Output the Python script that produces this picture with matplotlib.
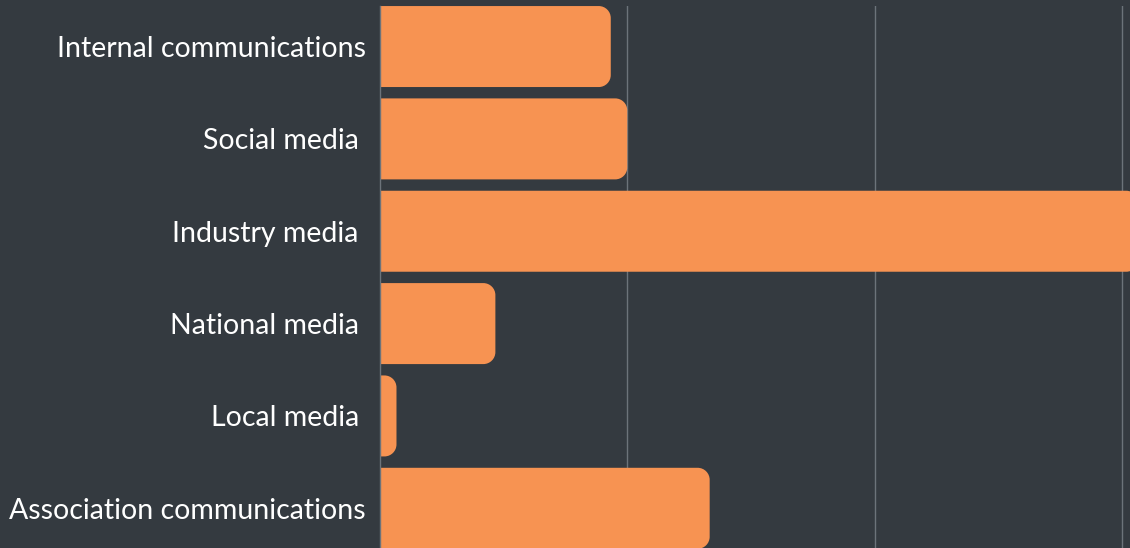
import numpy as np
import matplotlib.pyplot as plt
from matplotlib.path import Path
from matplotlib.patches import PathPatch
from matplotlib.transforms import IdentityTransform

categories = ["Internal communications", "Social media ", "Industry media ",
              "National media ", "Local media ", "Association communications"]
counts = [14, 15, 46, 7, 1, 20]

BG = "#343a40"
BAR = "#f79352"
GRID = "#6c737a"

W, H = 1130, 548
fig = plt.figure(figsize=(W / 100, H / 100), dpi=100, facecolor=BG)
ax = fig.add_axes([380 / W, 0, 1 - 380 / W, 1 - 6 / H], facecolor=BG)

y = np.arange(len(categories))
bars = ax.barh(y, counts, height=0.877, color="none")
ax.set_xlim(0, 45.5)
ax.set_ylim(5.43, -0.439)

ax.set_xticks([15, 30, 45])
ax.xaxis.grid(True, color=GRID, linewidth=1)
ax.set_axisbelow(True)
ax.tick_params(axis="x", length=0, labelbottom=False)
ax.set_yticks(y)
ax.set_yticklabels(categories, color="white", fontsize=20.5,
                   family=["Lato", "DejaVu Sans"])
ax.tick_params(axis="y", length=0, pad=10)
for s in ["top", "right", "bottom"]:
    ax.spines[s].set_visible(False)
ax.spines["left"].set_color(GRID)
ax.spines["left"].set_linewidth(1)
ax.spines["left"].set_zorder(5)

# rounded right corners, built in pixel space from the bar geometry
fig.canvas.draw()
r = 12
for b in bars:
    (x0, y0), (x1, y1) = ax.transData.transform(
        [(b.get_x(), b.get_y()), (b.get_x() + b.get_width(), b.get_y() + b.get_height())])
    ylo, yhi = min(y0, y1), max(y0, y1)
    rr = min(r, (x1 - x0), (yhi - ylo) / 2)
    k = 0.5523 * rr
    verts = [(x0, ylo), (x1 - rr, ylo),
             (x1 - rr + k, ylo), (x1, ylo + rr - k), (x1, ylo + rr),
             (x1, yhi - rr),
             (x1, yhi - rr + k), (x1 - rr + k, yhi), (x1 - rr, yhi),
             (x0, yhi), (x0, ylo)]
    codes = [Path.MOVETO, Path.LINETO,
             Path.CURVE4, Path.CURVE4, Path.CURVE4,
             Path.LINETO,
             Path.CURVE4, Path.CURVE4, Path.CURVE4,
             Path.LINETO, Path.CLOSEPOLY]
    p = PathPatch(Path(verts, codes), transform=IdentityTransform(),
                  facecolor=BAR, edgecolor="none", zorder=3)
    p.set_clip_path(ax.patch)
    ax.add_artist(p)

fig.savefig("out.png", dpi=100, facecolor=BG)
